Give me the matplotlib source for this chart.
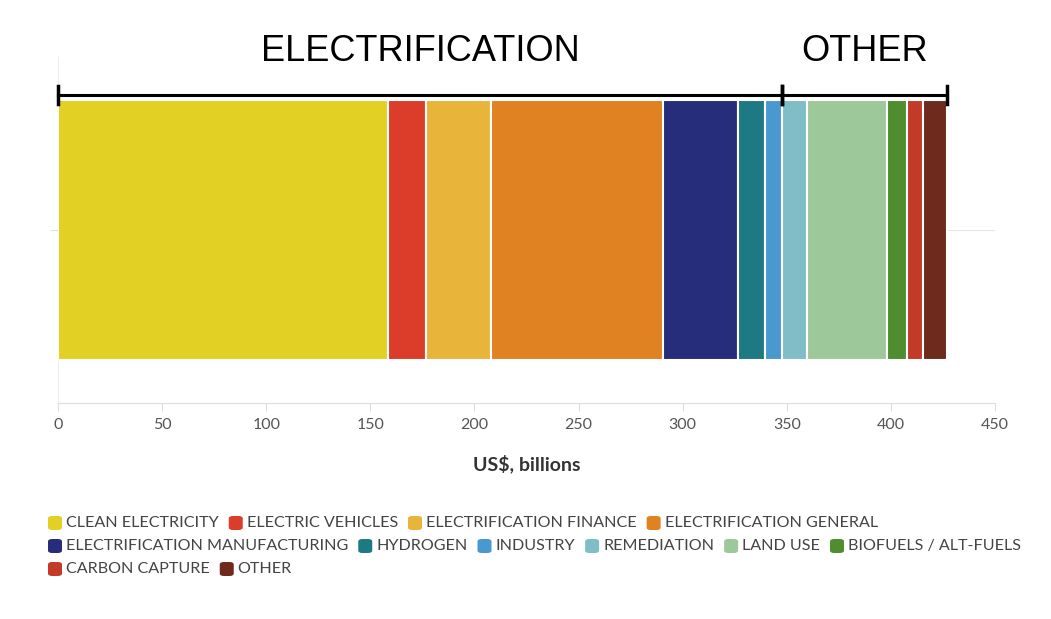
import matplotlib.pyplot as plt
from matplotlib.patches import FancyBboxPatch
import numpy as np

categories = ["CLEAN ELECTRICITY", "ELECTRIC VEHICLES", "ELECTRIFICATION FINANCE",
              "ELECTRIFICATION GENERAL", "ELECTRIFICATION MANUFACTURING", "HYDROGEN",
              "INDUSTRY", "REMEDIATION", "LAND USE", "BIOFUELS / ALT-FUELS",
              "CARBON CAPTURE", "OTHER"]
values = [158.6, 18.1, 31.3, 82.6, 36.0, 13.1, 8.2, 11.7, 38.7, 9.3, 8.0, 11.5]
colors = ["#E3D024", "#DB3D2A", "#E8B43A", "#E08122", "#262E7C", "#1D7A85",
          "#4A98D0", "#7FBEC7", "#9DC89A", "#4E8E2E", "#C43A28", "#6F2A1E"]

# bracket groups: label, index of first and last segment
groups = [("ELECTRIFICATION", 0, 6), ("OTHER", 7, 11)]
legend_rows = [[0, 1, 2, 3], [4, 5, 6, 7, 8, 9], [10, 11]]

plt.rcParams['font.family'] = ['Lato', 'DejaVu Sans']

fig = plt.figure(figsize=(10.51, 6.19), dpi=100)
ax = fig.add_axes([58 / 1051, 1 - 403 / 619, 937 / 1051, 346 / 619])

starts = np.concatenate([[0], np.cumsum(values)[:-1]])
ax.barh([0] * len(values), values, left=starts, height=0.75, color=colors,
        edgecolor="white", linewidth=1.5, zorder=3)
ax.axhline(0, color="#e6e6e6", lw=0.8, zorder=1)

ax.set_xlim(0, 450)
ax.set_ylim(-0.5, 0.5)
ax.set_xticks(np.arange(0, 451, 50))
ax.set_yticks([0])
ax.set_yticklabels([""])
ax.tick_params(axis="x", colors="#dddddd", labelcolor="#555555", labelsize=11.5, length=6, pad=5)
ax.tick_params(axis="y", colors="#dddddd", length=6)
for s in ["top", "right"]:
    ax.spines[s].set_visible(False)
ax.spines["bottom"].set_color("#dddddd")
ax.spines["left"].set_color("#eeeeee")
ax.set_xlabel("US$, billions", fontsize=14, fontweight="bold", color="#333333", labelpad=16)

ends = np.cumsum(values)
line_y, cap = 0.39, 0.026
for label, i0, i1 in groups:
    x0, x1 = starts[i0], ends[i1]
    ax.plot([x0, x1], [line_y, line_y], color="black", lw=2.2, clip_on=False, zorder=5)
    for xx in (x0, x1):
        ax.plot([xx, xx], [line_y - cap, line_y + cap], color="black", lw=2.5,
                clip_on=False, zorder=5)
    ax.text((x0 + x1) / 2, 0.39 + 0.125, label, ha="center", va="center",
            fontsize=26, family="Liberation Sans", color="black", clip_on=False)

# legend, drawn by hand so it flows in rows
fig.canvas.draw()
renderer = fig.canvas.get_renderer()
W, H = fig.bbox.width, fig.bbox.height
sq = 14
row_y = [523, 546, 569]
for r, row in enumerate(legend_rows):
    x = 48
    yc = row_y[r]
    for i in row:
        fig.patches.append(FancyBboxPatch(((x) / W, (H - yc - sq / 2) / H), sq / W, sq / H,
                                          boxstyle="round,pad=0,rounding_size=0.004",
                                          transform=fig.transFigure, facecolor=colors[i],
                                          edgecolor="none"))
        t = fig.text((x + sq + 4) / W, (H - yc) / H, categories[i], fontsize=11.6,
                     color="#444444", va="center", ha="left")
        bb = t.get_window_extent(renderer)
        x = bb.x1 + 10

fig.savefig("out.png", dpi=100)
